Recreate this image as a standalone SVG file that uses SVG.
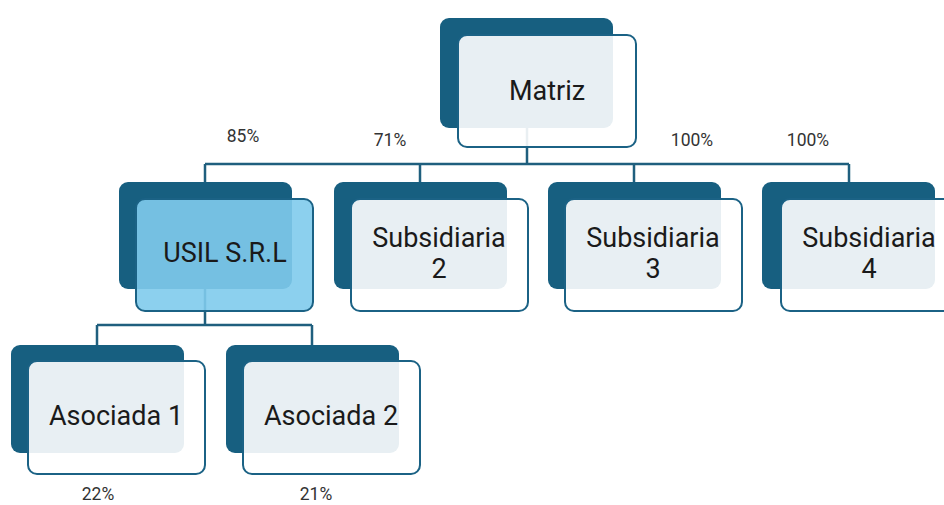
<svg xmlns="http://www.w3.org/2000/svg" width="944" height="505" viewBox="0 0 944 505">
<style>
.back{fill:#175F80;}
.front{fill:#FFFFFF;fill-opacity:0.9;stroke:#1B6285;stroke-width:2;}
.sel{fill:#80CBEC;fill-opacity:0.9;stroke:#1B6285;stroke-width:2;}
.lbl{font-family:Roboto,"Liberation Sans",sans-serif;font-size:27px;fill:#1A1A1A;text-anchor:middle;}
.pct{font-family:Roboto,"Liberation Sans",sans-serif;font-size:17.5px;fill:#333333;text-anchor:middle;}
.conn{fill:none;stroke:#1F5F7E;stroke-width:2.5;}
</style>
<rect width="944" height="505" fill="#FFFFFF"/>
<g id="connectors">
<path class="conn" d="M527 128 V164 M205 164 H849 M205 164 V183 M420 164 V183 M634 164 V183 M849 164 V183"/>
<path class="conn" d="M205 289 V325 M97 325 H312 M97 325 V346 M312 325 V346"/>
</g>
<g id="matriz">
<rect class="back" x="440" y="18" width="173" height="110" rx="9"/>
<rect class="front" x="458" y="35" width="178" height="112" rx="9"/>
<text class="lbl" x="547" y="100">Matriz</text>
</g>
<g id="usil">
<rect class="back" x="119" y="182" width="173" height="107" rx="9"/>
<rect class="sel" x="136" y="199" width="177" height="112" rx="9"/>
<text class="lbl" x="225" y="262">USIL S.R.L</text>
</g>
<g id="sub2">
<rect class="back" x="334" y="182" width="173" height="107" rx="9"/>
<rect class="front" x="351" y="199" width="177" height="112" rx="9"/>
<text class="lbl" x="439" y="247">Subsidiaria</text>
<text class="lbl" x="439" y="278">2</text>
</g>
<g id="sub3">
<rect class="back" x="548" y="182" width="173" height="107" rx="9"/>
<rect class="front" x="565" y="199" width="177" height="112" rx="9"/>
<text class="lbl" x="653" y="247">Subsidiaria</text>
<text class="lbl" x="653" y="278">3</text>
</g>
<g id="sub4">
<rect class="back" x="762" y="182" width="173" height="107" rx="9"/>
<rect class="front" x="781" y="199" width="177" height="112" rx="9"/>
<text class="lbl" x="869" y="247">Subsidiaria</text>
<text class="lbl" x="869" y="278">4</text>
</g>
<g id="asociada1">
<rect class="back" x="11" y="345" width="173" height="108" rx="9"/>
<rect class="front" x="28" y="361" width="177" height="113" rx="9"/>
<text class="lbl" x="116" y="425">Asociada 1</text>
</g>
<g id="asociada2">
<rect class="back" x="226" y="345" width="173" height="108" rx="9"/>
<rect class="front" x="243" y="361" width="177" height="113" rx="9"/>
<text class="lbl" x="331" y="425">Asociada 2</text>
</g>
<g id="percentages">
<text class="pct" x="243" y="142">85%</text>
<text class="pct" x="390" y="146">71%</text>
<text class="pct" x="692" y="146">100%</text>
<text class="pct" x="808" y="146">100%</text>
<text class="pct" x="98" y="500">22%</text>
<text class="pct" x="316" y="500">21%</text>
</g>
</svg>
